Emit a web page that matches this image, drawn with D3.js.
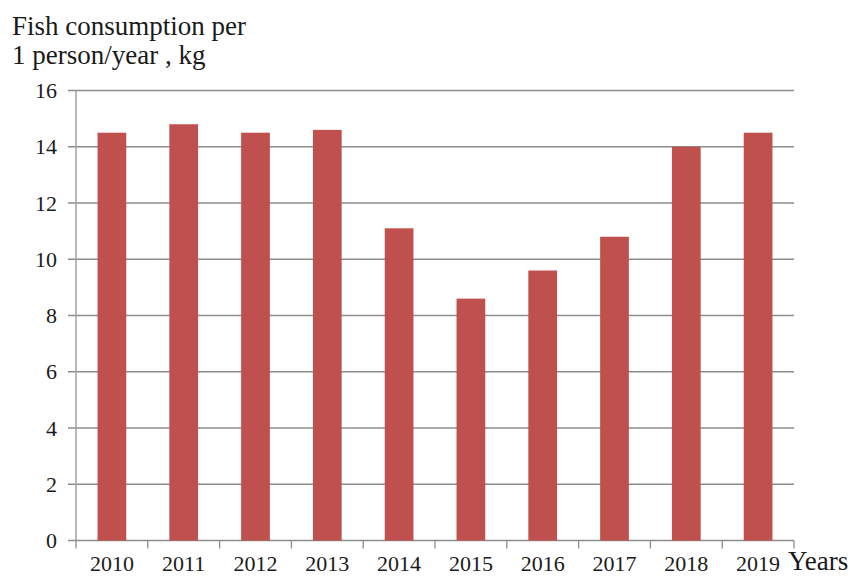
<!DOCTYPE html>
<html>
<head>
<meta charset="utf-8">
<script src="https://cdn.jsdelivr.net/npm/d3@7"></script>
<style>
  body { margin: 0; background: #fff; }
  text { font-family: "Liberation Serif", "Times New Roman", serif; fill: #1a1a1a; }
</style>
</head>
<body>
<svg width="850" height="577"></svg>
<script>
// values
var years = ["2010", "2011", "2012", "2013", "2014", "2015", "2016", "2017", "2018", "2019"];
var consumption = [14.5, 14.8, 14.5, 14.6, 11.1, 8.6, 9.6, 10.8, 14.0, 14.5];
var yTicks = [0, 2, 4, 6, 8, 10, 12, 14, 16];
var titleLines = ["Fish consumption per", "1 person/year , kg"];

var svg = d3.select("svg"),
    plotLeft = 76, plotRight = 794, plotTop = 90.5, plotBottom = 540.5;

var x = d3.scaleBand()
    .domain(years)
    .range([plotLeft, plotRight])
    .paddingInner(0.6)
    .paddingOuter(0.3);

var y = d3.scaleLinear()
    .domain([0, 16])
    .range([plotBottom, plotTop]);

// gridlines + y ticks
svg.append("g")
    .selectAll("line")
    .data(yTicks)
    .enter().append("line")
    .attr("x1", plotLeft - 8)
    .attr("x2", plotRight)
    .attr("y1", function(d) { return y(d); })
    .attr("y2", function(d) { return y(d); })
    .attr("stroke", "#8c8c8c")
    .attr("stroke-width", 1.3);

svg.append("g")
    .selectAll("text")
    .data(yTicks)
    .enter().append("text")
    .attr("x", plotLeft - 19)
    .attr("y", function(d) { return y(d); })
    .attr("dy", "0.35em")
    .attr("text-anchor", "end")
    .style("font-size", "22px")
    .text(function(d) { return d; });

// bars
svg.append("g")
    .selectAll("rect")
    .data(consumption)
    .enter().append("rect")
    .attr("x", function(d, i) { return x(years[i]); })
    .attr("y", function(d) { return y(d); })
    .attr("width", x.bandwidth())
    .attr("height", function(d) { return y(0) - y(d); })
    .attr("fill", "#c0504d");

// y axis line
svg.append("line")
    .attr("x1", plotLeft).attr("x2", plotLeft)
    .attr("y1", plotTop).attr("y2", plotBottom)
    .attr("stroke", "#a0a0a0")
    .attr("stroke-width", 1.5);

// x axis ticks at band edges
var edges = years.map(function(d, i) { return plotLeft + i * x.step(); });
edges.push(plotRight);

svg.append("g")
    .selectAll("line")
    .data(edges)
    .enter().append("line")
    .attr("x1", function(d) { return d; })
    .attr("x2", function(d) { return d; })
    .attr("y1", plotBottom)
    .attr("y2", plotBottom + 8)
    .attr("stroke", "#8c8c8c")
    .attr("stroke-width", 1.3);

svg.append("g")
    .selectAll("text")
    .data(years)
    .enter().append("text")
    .attr("x", function(d) { return x(d) + x.bandwidth() / 2; })
    .attr("y", 571)
    .attr("text-anchor", "middle")
    .style("font-size", "22px")
    .text(function(d) { return d; });

svg.append("text")
    .attr("x", 788)
    .attr("y", 570)
    .style("font-size", "27px")
    .text("Years");

svg.append("g")
    .selectAll("text")
    .data(titleLines)
    .enter().append("text")
    .attr("x", 12)
    .attr("y", function(d, i) { return 35 + i * 29; })
    .style("font-size", "27px")
    .text(function(d) { return d; });
</script>
</body>
</html>
